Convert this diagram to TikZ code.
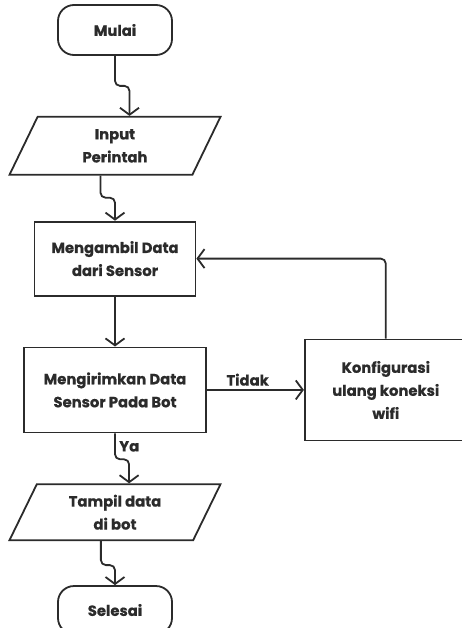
\documentclass[tikz,border=0pt]{standalone}
\usepackage{fontspec}
\setmainfont{Poppins}[BoldFeatures={FakeBold=0.6}]
\usetikzlibrary{positioning,shapes.geometric,arrows.meta}
\definecolor{garis}{HTML}{2B2B2B}
\tikzset{
  teks/.style={font=\bfseries\fontsize{14.8}{23}\selectfont, text=garis, align=center},
  terminal/.style={teks, draw=garis, line width=1.8pt, rounded corners=16pt, minimum width=114pt, minimum height=50pt},
  proses/.style={teks, draw=garis, line width=1.8pt, inner sep=0pt},
  masukan/.style={teks, draw=garis, line width=1.8pt, trapezium, trapezium stretches body, trapezium left angle=50, trapezium right angle=130, minimum width=211pt, minimum height=58pt, inner sep=0pt},
  alur/.style={draw=garis, line width=1.8pt, rounded corners=5pt, -{Straight Barb[length=7pt,width=19pt]}},
}

\begin{document}
\begin{tikzpicture}
            \useasboundingbox (-115pt,30pt) rectangle (347pt,-598pt);
            \node[terminal] (mulai) at (0,0) {Mulai};
            \node[masukan, below=60pt of mulai] (input) {Input\\Perintah};
            \node[proses, below=45pt of input, minimum width=161pt, minimum height=74pt] (ambil) {Mengambil Data\\dari Sensor};
            \node[proses, below=50pt of ambil, minimum width=182pt, minimum height=85pt] (kirim) {Mengirimkan Data\\Sensor Pada Bot};
            \node[proses, right=97pt of kirim, minimum width=162pt, minimum height=101pt] (konf) {Konfigurasi\\ulang koneksi\\wifi};
            \node[masukan, below=50pt of kirim, minimum height=56pt, trapezium left angle=52, trapezium right angle=128] (tampil) {Tampil data\\di bot};
            \node[terminal, below=44pt of tampil, minimum height=48pt] (selesai) {Selesai};
            \draw[alur] (mulai.south) -- ++(0,-30pt) -| (input.top side);
            \draw[alur] (input.bottom side) -- ++(0,-22pt) -| (ambil.north);
            \draw[alur] (ambil.south) -- (kirim.north);
            \draw[alur] (kirim.east) -- node[teks, above, pos=0.42] {Tidak} (konf.west);
            \draw[alur] (konf.north) |- (ambil.east);
            \draw[alur] (kirim.south) -- node[teks, right] {Ya} ++(0,-26pt) -| (tampil.top side);
            \draw[alur] (tampil.bottom side) -- ++(0,-24pt) -| (selesai.north);
\end{tikzpicture}
\end{document}
